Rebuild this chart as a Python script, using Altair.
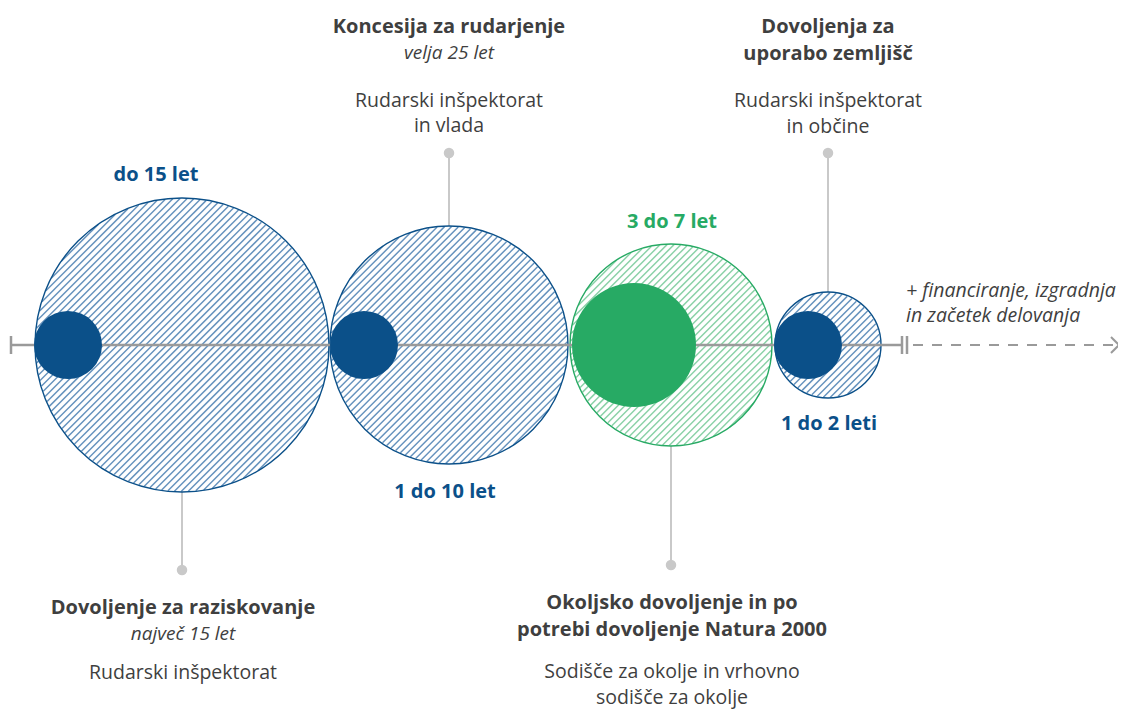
import math
import altair as alt
import pandas as pd

# ---- data ----
circle_names = ["raziskovanje", "koncesija", "okolje", "zemljisca"]
circle_cx = [182, 449, 671, 828]
circle_r = [147, 119, 101, 53]
circle_kind = ["blue", "blue", "green", "blue"]

solid_cx = [68, 364, 634, 808]
solid_r = [34, 34, 62, 34]
solid_kind = ["blue", "blue", "green", "blue"]

axis_y = 345

dur_labels = ["do 15 let", "1 do 10 let", "3 do 7 let", "1 do 2 leti"]
dur_x = [156, 445, 672, 829]
dur_y = [175, 492, 222, 424]
dur_kind = ["blue", "blue", "green", "blue"]

stem_x = [182, 449, 671, 828]
stem_y1 = [492, 153, 446, 153]
stem_y2 = [570, 226, 565, 292]
dot_y = [570, 153, 565, 153]

title_text = ["Koncesija za rudarjenje", "Dovoljenja za", "uporabo zemljišč",
              "Dovoljenje za raziskovanje", "Okoljsko dovoljenje in po",
              "potrebi dovoljenje Natura 2000"]
title_x = [449, 828, 828, 183, 672, 672]
title_y = [27, 27, 54, 608, 603, 630]

ital_text = ["velja 25 let", "največ 15 let"]
ital_x = [449, 183]
ital_y = [53, 634]

body_text = ["Rudarski inšpektorat", "in vlada", "Rudarski inšpektorat", "in občine",
             "Rudarski inšpektorat", "Sodišče za okolje in vrhovno", "sodišče za okolje"]
body_x = [449, 449, 828, 828, 183, 672, 672]
body_y = [101, 126, 101, 127, 673, 672, 698]

note_text = ["+ financiranje, izgradnja", "in začetek delovanja"]
note_x = [906, 906]
note_y = [291, 316]

BLUE = "#0b5089"
GREEN = "#27aa64"
HATCH = {"hblue": "#6592bd", "hgreen": "#8ad1a7"}
EDGE = {"blue": BLUE, "green": GREEN}
DARK = "#3f3f3f"
GRAY = "#9a9a9a"
STEM = "#c9c9c9"
FONT = "Open Sans"

W, H = 1110, 701
xs = alt.Scale(domain=[8, 8 + W], nice=False, zero=False)
ys = alt.Scale(domain=[8 + H, 8], nice=False, zero=False)

# ---- hatch chords derived from circle data ----
step = 7.0
rows = []
for name, cx, r, kind in zip(circle_names, circle_cx, circle_r, circle_kind):
    cy = axis_y
    c0 = cx + cy - r * math.sqrt(2)
    k = 0
    while True:
        c = c0 + step * (k + 0.5)
        k += 1
        d = (c - cx - cy) / math.sqrt(2)
        if d >= r:
            break
        h = math.sqrt(max(r * r - d * d, 0)) - 0.8
        if h <= 0:
            continue
        fx, fy = cx + d / math.sqrt(2), cy + d / math.sqrt(2)
        ux, uy = 1 / math.sqrt(2), -1 / math.sqrt(2)
        rows.append(dict(x=fx - h * ux, y=fy - h * uy, x2=fx + h * ux, y2=fy + h * uy, kind="h" + kind))
hatch_df = pd.DataFrame(rows)

hatch = alt.Chart(hatch_df).mark_rule(strokeWidth=1.45).encode(
    x=alt.X("x:Q", scale=xs, axis=None), y=alt.Y("y:Q", scale=ys, axis=None),
    x2="x2:Q", y2="y2:Q",
    stroke=alt.Stroke("kind:N", scale=alt.Scale(domain=list(HATCH), range=list(HATCH.values())), legend=None),
)

circ_df = pd.DataFrame({"cx": circle_cx, "r": circle_r, "kind": circle_kind, "cy": [axis_y] * 4})
circ_df["area"] = (2 * circ_df["r"]) ** 2
outline = alt.Chart(circ_df).mark_point(shape="circle", filled=False, strokeWidth=1.4, opacity=1).encode(
    x=alt.X("cx:Q", scale=xs, axis=None), y=alt.Y("cy:Q", scale=ys, axis=None),
    size=alt.Size("area:Q", scale=None, legend=None),
    color=alt.Color("kind:N", scale=alt.Scale(domain=list(EDGE), range=list(EDGE.values())), legend=None),
)

solid_df = pd.DataFrame({"cx": solid_cx, "r": solid_r, "kind": solid_kind, "cy": [axis_y] * 4})
solid_df["area"] = (2 * solid_df["r"]) ** 2
solid = alt.Chart(solid_df).mark_point(shape="circle", filled=True, opacity=1, strokeWidth=0).encode(
    x=alt.X("cx:Q", scale=xs, axis=None), y=alt.Y("cy:Q", scale=ys, axis=None),
    size=alt.Size("area:Q", scale=None, legend=None),
    color=alt.Color("kind:N", scale=alt.Scale(domain=list(EDGE), range=list(EDGE.values())), legend=None),
)

# timeline
line_df = pd.DataFrame({"x": [11], "x2": [903], "y": [axis_y]})
timeline = alt.Chart(line_df).mark_rule(color=GRAY, strokeWidth=2.5).encode(
    x=alt.X("x:Q", scale=xs, axis=None), x2="x2:Q", y=alt.Y("y:Q", scale=ys, axis=None))
ticks_df = pd.DataFrame({"x": [11, 902, 907], "y": [axis_y - 9] * 3, "y2": [axis_y + 9] * 3})
ticks = alt.Chart(ticks_df).mark_rule(color=GRAY, strokeWidth=2.5).encode(
    x=alt.X("x:Q", scale=xs, axis=None), y=alt.Y("y:Q", scale=ys, axis=None), y2="y2:Q")
dash_df = pd.DataFrame({"x": [913], "x2": [1116], "y": [axis_y]})
dashed = alt.Chart(dash_df).mark_rule(color=GRAY, strokeWidth=2, strokeDash=[10, 9]).encode(
    x=alt.X("x:Q", scale=xs, axis=None), x2="x2:Q", y=alt.Y("y:Q", scale=ys, axis=None))
arrow_df = pd.DataFrame({"x": [1111, 1111], "y": [axis_y - 8, axis_y + 8], "x2": [1119, 1119], "y2": [axis_y, axis_y]})
arrow = alt.Chart(arrow_df).mark_rule(color=GRAY, strokeWidth=2).encode(
    x=alt.X("x:Q", scale=xs, axis=None), y=alt.Y("y:Q", scale=ys, axis=None), x2="x2:Q", y2="y2:Q")

# stems
stem_df = pd.DataFrame({"x": stem_x, "y": stem_y1, "y2": stem_y2})
stems = alt.Chart(stem_df).mark_rule(color=STEM, strokeWidth=2).encode(
    x=alt.X("x:Q", scale=xs, axis=None), y=alt.Y("y:Q", scale=ys, axis=None), y2="y2:Q")
dot_df = pd.DataFrame({"x": stem_x, "y": dot_y})
dots = alt.Chart(dot_df).mark_circle(color=STEM, size=110, opacity=1).encode(
    x=alt.X("x:Q", scale=xs, axis=None), y=alt.Y("y:Q", scale=ys, axis=None))

# texts
dur_df = pd.DataFrame({"t": dur_labels, "x": dur_x, "y": dur_y, "kind": dur_kind})
durs = alt.Chart(dur_df).mark_text(font=FONT, fontSize=20, fontWeight="bold", baseline="middle", align="center").encode(
    x=alt.X("x:Q", scale=xs, axis=None), y=alt.Y("y:Q", scale=ys, axis=None), text="t:N",
    color=alt.Color("kind:N", scale=alt.Scale(domain=list(EDGE), range=list(EDGE.values())), legend=None))

tdf = pd.DataFrame({"t": title_text, "x": title_x, "y": title_y})
titles = alt.Chart(tdf).mark_text(font=FONT, fontSize=20, fontWeight="bold", color=DARK, baseline="middle").encode(
    x=alt.X("x:Q", scale=xs, axis=None), y=alt.Y("y:Q", scale=ys, axis=None), text="t:N")
idf = pd.DataFrame({"t": ital_text, "x": ital_x, "y": ital_y})
itals = alt.Chart(idf).mark_text(font=FONT, fontSize=19, fontStyle="italic", color=DARK, baseline="middle").encode(
    x=alt.X("x:Q", scale=xs, axis=None), y=alt.Y("y:Q", scale=ys, axis=None), text="t:N")
bdf = pd.DataFrame({"t": body_text, "x": body_x, "y": body_y})
bodies = alt.Chart(bdf).mark_text(font=FONT, fontSize=19.5, color=DARK, baseline="middle").encode(
    x=alt.X("x:Q", scale=xs, axis=None), y=alt.Y("y:Q", scale=ys, axis=None), text="t:N")
ndf = pd.DataFrame({"t": note_text, "x": note_x, "y": note_y})
notes = alt.Chart(ndf).mark_text(font=FONT, fontSize=19.5, fontStyle="italic", color=DARK, baseline="middle", align="left").encode(
    x=alt.X("x:Q", scale=xs, axis=None), y=alt.Y("y:Q", scale=ys, axis=None), text="t:N")

chart = alt.layer(
    stems, dots, hatch, outline, timeline, ticks, dashed, arrow, solid,
    durs, titles, itals, bodies, notes,
).properties(width=W, height=H, padding=0, background="white",
             autosize=alt.AutoSizeParams(type="none")
).configure_view(stroke=None)

chart.save("out.html", embed_options={"renderer": "svg", "actions": False})
